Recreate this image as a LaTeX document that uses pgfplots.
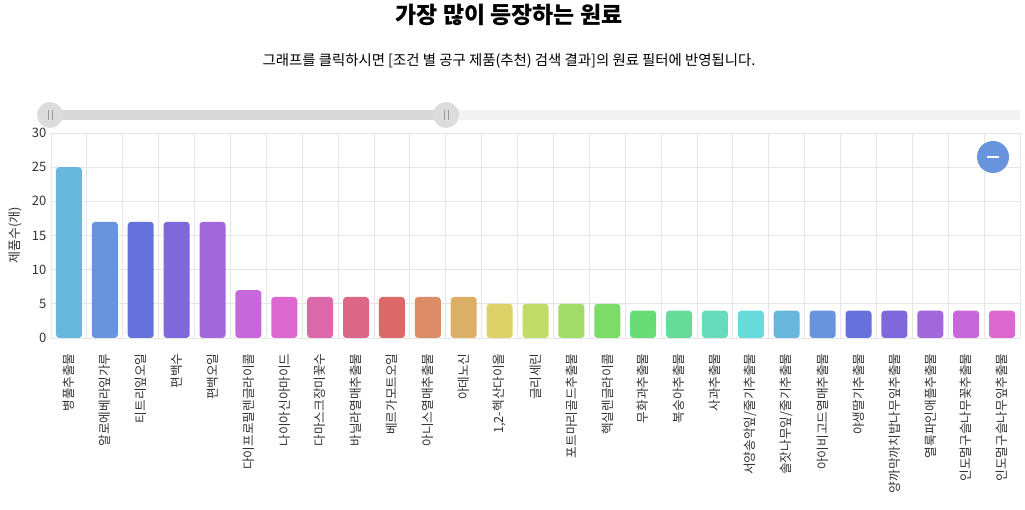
\documentclass[border=0pt]{standalone}
\usepackage{fontspec}
\setmainfont{Noto Sans CJK KR}
\usepackage{pgfplots}
\pgfplotsset{compat=1.18}
\definecolor{c1}{HTML}{67B7DC}
\definecolor{c2}{HTML}{6794DC}
\definecolor{c3}{HTML}{6771DC}
\definecolor{c4}{HTML}{8067DC}
\definecolor{c5}{HTML}{A367DC}
\definecolor{c6}{HTML}{C767DC}
\definecolor{c7}{HTML}{DC67CE}
\definecolor{c8}{HTML}{DC67AB}
\definecolor{c9}{HTML}{DC6788}
\definecolor{c10}{HTML}{DC6967}
\definecolor{c11}{HTML}{DC8C67}
\definecolor{c12}{HTML}{DCAF67}
\definecolor{c13}{HTML}{DCD267}
\definecolor{c14}{HTML}{C3DC67}
\definecolor{c15}{HTML}{A0DC67}
\definecolor{c16}{HTML}{7DDC67}
\definecolor{c17}{HTML}{67DC75}
\definecolor{c18}{HTML}{67DC98}
\definecolor{c19}{HTML}{67DCBB}
\definecolor{c20}{HTML}{67DADC}
\definecolor{gridc}{HTML}{E6E6E6}
\definecolor{txt}{HTML}{333333}
\definecolor{track}{HTML}{F3F3F3}
\definecolor{trackon}{HTML}{D9D9D9}
\definecolor{knob}{HTML}{DCDCDC}
\begin{document}
\begin{tikzpicture}[x=0.75pt,y=0.75pt]
\path[use as bounding box] (0,0) rectangle (1025,510);
% title and subtitle
\node[font=\fontsize{17.2}{20}\selectfont\bfseries, text=black] at (509,495) {가장 많이 등장하는 원료};
\node[font=\fontsize{10.8}{13}\selectfont, text=black] at (509,449) {그래프를 클릭하시면 [조건 별 공구 제품(추천) 검색 결과]의 원료 필터에 반영됩니다.};
% range slider
\draw[track, line width=7.5pt] (50,395) -- (1020,395);
\draw[trackon, line width=7.5pt] (50,395) -- (446,395);
\foreach \k in {50,446}{
  \fill[knob] (\k,395) circle (13);
  \draw[gray!80, line width=0.6pt] (\k-2,390) -- (\k-2,400) (\k+2,390) -- (\k+2,400);
}
\begin{axis}[
  at={(38.25pt,129pt)}, anchor=south west,
  scale only axis, width=726.75pt, height=153.75pt,
  xmin=-0.5, xmax=26.5, ymin=0, ymax=30,
  ytick={0,5,...,30},
  xtick={0,...,26},
  minor xtick={-0.5,0.5,...,26.5},
  xticklabels={병풀추출물,알로에베라잎가루,티트리잎오일,편백수,편백오일,다이프로필렌글라이콜,나이아신아마이드,다마스크장미꽃수,바닐라열매추출물,베르가모트오일,아니스열매추출물,아데노신,{1,2-헥산다이올},글리세린,포트마리골드추출물,헥실렌글라이콜,무화과추출물,복숭아추출물,사과추출물,서양송악잎/줄기추출물,솔잣나무잎/줄기추출물,아이비고드열매추출물,야생딸기추출물,양까막까치밥나무잎추출물,열룩파인애플추출물,인도멀구슬나무꽃추출물,인도멀구슬나무잎추출물},
  x tick label style={rotate=90, anchor=east, xshift=-8pt, font=\fontsize{9.5}{10}\selectfont, text=txt},
  y tick label style={font=\fontsize{9.75}{11}\selectfont, text=txt},
  /pgf/number format/assume math mode=true,
  major tick length=0pt, minor tick length=0pt,
  ymajorgrids, xminorgrids,
  major grid style={gridc, line width=0.6pt},
  minor grid style={gridc, line width=0.6pt},
  axis line style={draw=none},
  ylabel={제품수(개)},
  ylabel style={at={(axis description cs:-0.037,0.5)}, anchor=center, font=\fontsize{9.75}{11}\selectfont, text=txt},
  ybar, bar width=19.5pt,
  b/.style={fill=#1, draw=none, bar shift=0pt, rounded corners=2.5pt},
]
\addplot[b=c1] coordinates {(0,25)};
\addplot[b=c2] coordinates {(1,17)};
\addplot[b=c3] coordinates {(2,17)};
\addplot[b=c4] coordinates {(3,17)};
\addplot[b=c5] coordinates {(4,17)};
\addplot[b=c6] coordinates {(5,7)};
\addplot[b=c7] coordinates {(6,6)};
\addplot[b=c8] coordinates {(7,6)};
\addplot[b=c9] coordinates {(8,6)};
\addplot[b=c10] coordinates {(9,6)};
\addplot[b=c11] coordinates {(10,6)};
\addplot[b=c12] coordinates {(11,6)};
\addplot[b=c13] coordinates {(12,5)};
\addplot[b=c14] coordinates {(13,5)};
\addplot[b=c15] coordinates {(14,5)};
\addplot[b=c16] coordinates {(15,5)};
\addplot[b=c17] coordinates {(16,4)};
\addplot[b=c18] coordinates {(17,4)};
\addplot[b=c19] coordinates {(18,4)};
\addplot[b=c20] coordinates {(19,4)};
\addplot[b=c1] coordinates {(20,4)};
\addplot[b=c2] coordinates {(21,4)};
\addplot[b=c3] coordinates {(22,4)};
\addplot[b=c4] coordinates {(23,4)};
\addplot[b=c5] coordinates {(24,4)};
\addplot[b=c6] coordinates {(25,4)};
\addplot[b=c7] coordinates {(26,4)};
\end{axis}
% zoom-out button
\fill[c2] (993,353) circle (16);
\draw[white, line width=0.9pt] (987,353) -- (999,353);
\end{tikzpicture}
\end{document}
